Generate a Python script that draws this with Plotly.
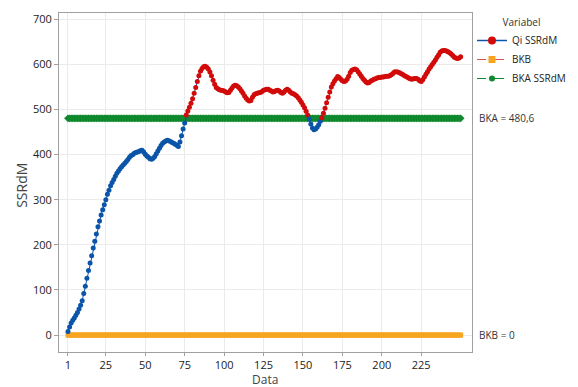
import plotly.graph_objects as go

# ---- data ----
qi_ssrdm = [
    8, 18, 27, 33, 38, 44, 50, 58, 66, 76,
    92, 108, 126, 143, 160, 176, 193, 208, 224, 240,
    253, 266, 278, 289, 300, 312, 321, 331, 338, 345,
    352, 359, 364, 369, 373, 377, 381, 385, 389, 394,
    398, 400, 403, 405, 406, 407, 409, 410, 406, 401,
    397, 394, 391, 390, 392, 396, 402, 408, 414, 420,
    425, 428, 430, 432, 431, 429, 427, 425, 423, 421,
    418, 428, 442, 457, 470, 488, 497, 505, 514, 524,
    536, 549, 562, 575, 585, 591, 595, 596, 594, 590,
    583, 575, 565, 556, 549, 546, 544, 543, 542, 541,
    539, 537, 538, 543, 548, 552, 554, 553, 550, 546,
    541, 536, 530, 525, 521, 519, 520, 527, 533, 535,
    536, 537, 538, 540, 543, 544, 545, 545, 543, 541,
    539, 540, 542, 543, 541, 538, 536, 539, 543, 545,
    543, 539, 536, 535, 533, 530, 526, 521, 516, 510,
    504, 496, 488, 479, 468, 459, 455, 457, 461, 466,
    474, 482, 492, 503, 515, 527, 539, 550, 557, 563,
    568, 573, 571, 567, 564, 562, 563, 567, 574, 582,
    587, 589, 590, 588, 584, 579, 574, 569, 565, 561,
    559, 560, 563, 565, 567, 568, 570, 571, 571, 572,
    572, 573, 574, 574, 575, 577, 580, 583, 584, 583,
    582, 580, 578, 576, 574, 572, 570, 568, 567, 568,
    569, 569, 567, 564, 562, 566, 572, 578, 584, 590,
    595, 600, 605, 610, 616, 621, 627, 630, 631, 631,
    630, 628, 626, 623, 620, 616, 614, 613, 614, 617,
]
data_index = list(range(1, len(qi_ssrdm) + 1))
bkb_value = 0
bka_value = 480.6
bkb = [bkb_value] * len(qi_ssrdm)
bka = [bka_value] * len(qi_ssrdm)
x_ticks = [1, 25, 50, 75, 100, 125, 150, 175, 200, 225]
y_ticks = [0, 100, 200, 300, 400, 500, 600, 700]

BLUE = "#0B55A8"
RED = "#D10A0A"
ORANGE = "#F7A521"
GREEN = "#0F8A2E"
FONT = "Open Sans"

point_colors = [RED if v > bka_value else BLUE for v in qi_ssrdm]

fig = go.Figure()

fig.add_trace(go.Scatter(
    x=data_index, y=bkb, mode="lines+markers", name="BKB",
    line=dict(color="#D9534F", width=1, dash="dash"),
    marker=dict(symbol="square", size=5, color=ORANGE),
    showlegend=False,
))
fig.add_trace(go.Scatter(
    x=data_index, y=bka, mode="lines+markers", name="BKA SSRdM",
    line=dict(color=GREEN, width=1, dash="dash"),
    marker=dict(symbol="diamond", size=6, color=GREEN),
    showlegend=False,
))
fig.add_trace(go.Scatter(
    x=data_index, y=qi_ssrdm, mode="lines+markers", name="Qi SSRdM",
    line=dict(color=BLUE, width=1),
    marker=dict(symbol="circle", size=5, color=point_colors),
    showlegend=False,
))

# legend entries
fig.add_trace(go.Scatter(
    x=[None], y=[None], mode="lines+markers", name="Qi SSRdM",
    line=dict(color=BLUE, width=1.5),
    marker=dict(symbol="circle", size=8, color=RED),
))
fig.add_trace(go.Scatter(
    x=[None], y=[None], mode="lines+markers", name="BKB",
    line=dict(color="#D9534F", width=1, dash="dash"),
    marker=dict(symbol="square", size=7, color=ORANGE),
))
fig.add_trace(go.Scatter(
    x=[None], y=[None], mode="lines+markers", name="BKA SSRdM",
    line=dict(color=GREEN, width=1, dash="dash"),
    marker=dict(symbol="circle", size=6, color=GREEN),
))

axis_common = dict(
    showgrid=True, gridcolor="#EBEBEB", gridwidth=1,
    showline=True, linecolor="#A0A0A0", linewidth=1, mirror=True,
    ticks="outside", tickcolor="#A0A0A0",
    zeroline=False, automargin=False,
    tickfont=dict(family=FONT, size=11, color="#222222"),
)

fig.update_xaxes(
    range=[-4.7, 257.2], tickmode="array", tickvals=x_ticks,
    ticktext=[str(t) for t in x_ticks], ticklen=3,
    **axis_common,
)
fig.update_yaxes(
    range=[-37.5, 714], tickmode="array", tickvals=y_ticks, ticklen=4,
    **axis_common,
)

# axis titles
fig.add_annotation(xref="paper", yref="paper", x=0.499, y=-0.0815,
                   text="Data", showarrow=False, xanchor="center", yanchor="middle",
                   borderpad=0,
                   font=dict(family=FONT, size=12, color="#444444"))
fig.add_annotation(xref="paper", yref="paper", x=-0.0896, y=0.493,
                   text="SSRdM", showarrow=False, xanchor="center", yanchor="middle",
                   textangle=-90, font=dict(family=FONT, size=14, color="#444444"))

fig.add_annotation(xref="paper", yref="y", x=1.012, y=bka_value,
                   text="BKA = 480,6", showarrow=False, xanchor="left", yanchor="middle",
                   font=dict(family=FONT, size=10, color="#333333"))
fig.add_annotation(xref="paper", yref="y", x=1.012, y=bkb_value,
                   text="BKB = 0", showarrow=False, xanchor="left", yanchor="middle",
                   font=dict(family=FONT, size=10, color="#333333"))

fig.update_layout(
    width=570, height=379,
    margin=dict(l=51, r=106, t=5, b=35),
    plot_bgcolor="white", paper_bgcolor="white",
    font=dict(family=FONT, size=10, color="#333333"),
    legend=dict(
        title=dict(text="Variabel", side="top center", font=dict(family=FONT, size=10, color="#333333")),
        x=1.0, xanchor="left", y=1.0, yanchor="top",
        font=dict(family=FONT, size=10, color="#222222"),
        bgcolor="rgba(0,0,0,0)", tracegroupgap=0, itemwidth=30,
    ),
)

fig.write_html("out.html")
